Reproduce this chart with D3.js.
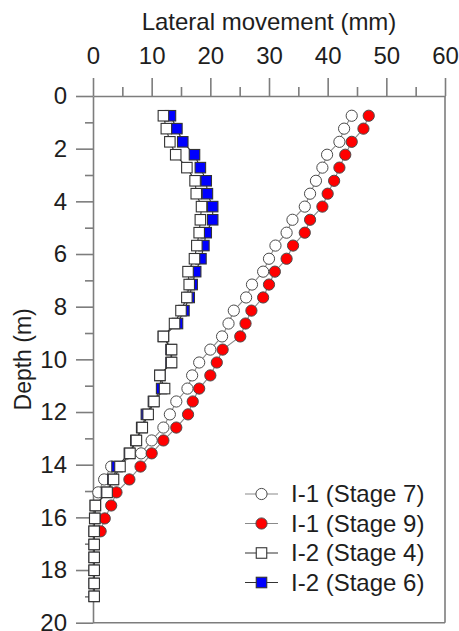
<!DOCTYPE html>
<html>
<head>
<meta charset="utf-8">
<script src="https://cdn.jsdelivr.net/npm/d3@7/dist/d3.min.js"></script>
<style>
  html, body { margin: 0; padding: 0; background: #fff; }
  svg { display: block; font-family: "Liberation Sans", Arial, sans-serif; }
</style>
</head>
<body>
<svg id="chart" width="459" height="631"></svg>
<script>
// Inclinometer readings: depth below ground (m) for every reading level
const depths = [0.75, 1.24, 1.74, 2.23, 2.72, 3.22, 3.71, 4.20, 4.70, 5.19,
  5.68, 6.18, 6.67, 7.16, 7.65, 8.15, 8.64, 9.13, 9.63, 10.12,
  10.61, 11.11, 11.60, 12.09, 12.59, 13.08, 13.57, 14.07, 14.56, 15.05,
  15.55, 16.04, 16.53, 17.03, 17.52, 18.01, 18.51, 19.00];

// Lateral movement (mm), listed from the top reading downwards
const i1Stage7 = [44.1, 42.8, 42.0, 39.9, 39.1, 38.0, 37.0, 36.1, 34.0, 33.0,
  31.1, 30.0, 29.0, 27.1, 26.1, 24.0, 23.1, 22.0, 20.0, 18.1,
  16.9, 16.1, 14.2, 13.1, 12.0, 10.0, 8.2, 3.1, 1.9, 0.9];
const i1Stage9 = [47.0, 46.1, 44.1, 43.0, 42.0, 41.1, 40.0, 39.1, 37.0, 36.1,
  34.1, 33.0, 31.0, 30.0, 29.0, 27.0, 26.0, 25.1, 22.1, 21.1,
  20.0, 18.1, 17.0, 16.2, 14.2, 12.0, 10.0, 8.1, 6.2, 4.0,
  3.1, 2.0, 1.3];
const i2Stage4 = [12.0, 12.5, 13.1, 14.1, 16.0, 17.4, 17.6, 18.5, 18.3, 18.1,
  17.7, 17.3, 16.2, 16.4, 16.0, 15.0, 13.9, 12.0, 13.4, 13.4,
  11.4, 12.2, 10.4, 9.4, 8.4, 7.4, 6.3, 4.6, 3.5, 2.4,
  0.4, 0.3, 0.2, 0.2, 0.2, 0.2, 0.2, 0.2];
const i2Stage6 = [13.2, 14.3, 15.3, 17.3, 18.3, 19.3, 19.5, 20.4, 20.4, 19.3,
  18.9, 18.4, 17.5, 16.9, 16.4, 15.5, 14.4, 12.0, 13.3, 13.3,
  11.4, 11.7, 10.3, 9.1, 8.3, 7.3, 6.2, 4.1, 3.4, 2.3,
  0.4, 0.3, 0.2, 0.2, 0.2, 0.2, 0.2, 0.2];

const xTicks = [0, 10, 20, 30, 40, 50, 60];
const xMinorTicks = [5, 15, 25, 35, 45, 55];
const yTicks = [0, 2, 4, 6, 8, 10, 12, 14, 16, 18, 20];
const yMinorTicks = [1, 3, 5, 7, 9, 11, 13, 15, 17, 19];

const seriesNames = ["I-1 (Stage 7)", "I-1 (Stage 9)", "I-2 (Stage 4)", "I-2 (Stage 6)"];

// Series styling, in drawing order (white squares sit on top of the blue ones)
const series = [
  { name: seriesNames[0], values: i1Stage7, shape: "circle", fill: "#ffffff", line: "#8a8a8a" },
  { name: seriesNames[1], values: i1Stage9, shape: "circle", fill: "#ff0000", line: "#8a8a8a" },
  { name: seriesNames[3], values: i2Stage6, shape: "square", fill: "#0000ff", line: "#333333" },
  { name: seriesNames[2], values: i2Stage4, shape: "square", fill: "#ffffff", line: "#333333" }
];
const legendOrder = [0, 1, 3, 2];

const svg = d3.select("#chart");
const plotLeft = 93, plotRight = 445, plotTop = 96, plotBottom = 622.7;
const axisColor = "#7d7d7d";
const textColor = "#1e1e1e";

const x = d3.scaleLinear().domain([0, 60]).range([plotLeft, plotRight]);
const y = d3.scaleLinear().domain([0, 20]).range([plotTop, plotBottom]);

svg.append("rect").attr("width", 459).attr("height", 631).attr("fill", "#fff");

// Plot frame (right and bottom edges)
svg.append("line").attr("x1", plotRight).attr("x2", plotRight).attr("y1", plotTop).attr("y2", plotBottom)
  .attr("stroke", axisColor).attr("stroke-width", 1.6);
svg.append("line").attr("x1", plotLeft).attr("x2", plotRight).attr("y1", plotBottom).attr("y2", plotBottom)
  .attr("stroke", axisColor).attr("stroke-width", 1.6);

function styleAxis(g) {
  g.selectAll("path, line").attr("stroke", axisColor).attr("stroke-width", 1.6);
  g.selectAll("text").attr("fill", textColor).style("font-size", "24px")
    .style("font-family", "'Liberation Sans', Arial, sans-serif");
}

// Top axis: lateral movement
const xAxis = svg.append("g").attr("transform", `translate(0,${plotTop})`)
  .call(d3.axisTop(x).tickValues(xTicks).tickSize(18).tickSizeOuter(0).tickPadding(14));
styleAxis(xAxis);
const xMinor = svg.append("g").attr("transform", `translate(0,${plotTop})`)
  .call(d3.axisTop(x).tickValues(xMinorTicks).tickSize(9).tickFormat(""));
xMinor.select(".domain").remove();
styleAxis(xMinor);

// Left axis: depth
const yAxis = svg.append("g").attr("transform", `translate(${plotLeft},0)`)
  .call(d3.axisLeft(y).tickValues(yTicks).tickSize(17).tickSizeOuter(0).tickPadding(9));
styleAxis(yAxis);
const yMinor = svg.append("g").attr("transform", `translate(${plotLeft},0)`)
  .call(d3.axisLeft(y).tickValues(yMinorTicks).tickSize(8).tickFormat(""));
yMinor.select(".domain").remove();
styleAxis(yMinor);

// Axis titles
svg.append("text").attr("x", (plotLeft + plotRight) / 2).attr("y", 30)
  .attr("text-anchor", "middle").attr("fill", textColor)
  .style("font-size", "24px").text("Lateral movement (mm)");
svg.append("text")
  .attr("transform", `translate(31,${(plotTop + plotBottom) / 2}) rotate(-90)`)
  .attr("text-anchor", "middle").attr("fill", textColor)
  .style("font-size", "23px").text("Depth (m)");

const squareSide = 10.5, circleR = 5.6;

function drawMarker(g, s, cx, cy) {
  if (s.shape === "circle") {
    g.append("circle").attr("cx", cx).attr("cy", cy).attr("r", circleR)
      .attr("fill", s.fill).attr("stroke", "#4a4a4a").attr("stroke-width", 1);
  } else {
    g.append("rect").attr("x", cx - squareSide / 2).attr("y", cy - squareSide / 2)
      .attr("width", squareSide).attr("height", squareSide)
      .attr("fill", s.fill).attr("stroke", "#333").attr("stroke-width", 1.1);
  }
}

const line = d3.line().x(d => x(d.v)).y(d => y(d.d));

series.forEach(s => {
  const pts = s.values.map((v, i) => ({ v, d: depths[i] }));
  const g = svg.append("g");
  g.append("path").datum(pts).attr("d", line)
    .attr("fill", "none").attr("stroke", s.line).attr("stroke-width", 1.1);
  pts.forEach(p => drawMarker(g, s, x(p.v), y(p.d)));
});

// Legend
const legend = svg.append("g");
const legendY = [494, 523.5, 553, 582.5];
legendOrder.forEach((si, k) => {
  const s = series[si];
  const ly = legendY[k];
  legend.append("line").attr("x1", 245).attr("x2", 278).attr("y1", ly).attr("y2", ly)
    .attr("stroke", s.line).attr("stroke-width", 1.1);
  drawMarker(legend, s, 261.5, ly);
  legend.append("text").attr("x", 291).attr("y", ly).attr("dy", "0.35em")
    .attr("fill", textColor).style("font-size", "24px").text(s.name);
});
</script>
</body>
</html>
